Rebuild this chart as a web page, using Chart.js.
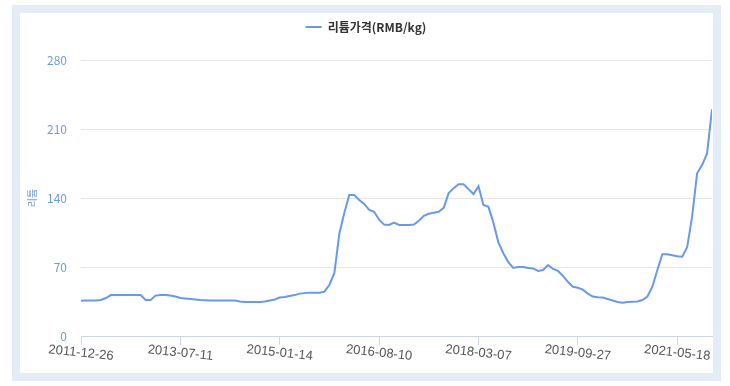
<!DOCTYPE html>
<html>
<head>
<meta charset="utf-8">
<script src="https://cdn.jsdelivr.net/npm/chart.js@4.4.1/dist/chart.umd.min.js"></script>
<style>
  html, body { margin: 0; padding: 0; background: #fff; }
  #frame {
    position: absolute; left: 12px; top: 5px;
    width: 709px; height: 376px;
    box-sizing: border-box;
    border: 8px solid #e4ecf7;
    background: #fff;
  }
  #wrap { position: relative; width: 693px; height: 360px; }
</style>
</head>
<body>
<div id="frame"><div id="wrap"><canvas id="price-chart"></canvas></div></div>
<script>
// x tick labels, one every 20 samples
const xTickLabels = ['2011-12-26', '2013-07-11', '2015-01-14', '2016-08-10', '2018-03-07', '2019-09-27', '2021-05-18'];
const samplesPerLabel = 20;

// lithium price (RMB/kg)
const lithiumPrice = [
  35.8, 36, 36, 36, 36.5, 38.5, 41.5, 41.6, 41.6, 41.6,
  41.6, 41.6, 41.6, 36.5, 36.5, 41, 41.6, 41.6, 41, 40,
  38.5, 38, 37.5, 37, 36.5, 36.2, 36, 36, 36, 36,
  36, 36, 35, 34.5, 34.5, 34.5, 34.6, 35, 36, 37,
  39, 39.5, 40.6, 41.5, 43, 43.5, 44, 44, 44, 45,
  52, 64, 104, 125, 143, 143, 138, 134, 128, 126,
  118, 113, 112.6, 115, 112.6, 112.6, 112.6, 113, 117, 122,
  124, 125, 126, 130, 145, 150, 154, 154, 149, 144,
  152, 133, 131, 115, 95, 84, 75, 69, 70, 70,
  69, 68.5, 66, 67, 72, 68, 66, 61, 55, 50,
  49, 47, 43, 40, 39.2, 39, 37.5, 36, 34.5, 33.8,
  34.5, 34.8, 35, 36.5, 40, 50, 67, 83, 83, 82,
  81, 80.5, 90, 121, 165, 173.4, 185, 230
];

const seriesName = '리튬가격(RMB/kg)';
const yTitle = '리튬';
const yTicks = { min: 0, max: 280, step: 70 };

const lineColor = 'rgb(104,153,238)';
const fontFamily = "'Noto Sans CJK KR', 'Noto Sans', sans-serif";

const legendSpacer = {
  id: 'legendSpacer',
  beforeInit(chart) {
    const fit = chart.legend.fit;
    chart.legend.fit = function () {
      fit.bind(chart.legend)();
      this.height += 17;
    };
  }
};

// rotated x labels centred under their tick
const slantedLabels = {
  id: 'slantedLabels',
  afterDraw(chart) {
    const scale = chart.scales.x;
    const ctx = chart.ctx;
    ctx.save();
    ctx.fillStyle = '#555';
    ctx.font = "13px 'Liberation Sans', Arial, sans-serif";
    ctx.textAlign = 'center';
    ctx.textBaseline = 'middle';
    scale.ticks.forEach(t => {
      const x = scale.getPixelForValue(t.value);
      ctx.save();
      ctx.translate(x, scale.top + 17);
      ctx.rotate(6 * Math.PI / 180);
      ctx.fillText(xTickLabels[t.value / samplesPerLabel] || '', 0, 0);
      ctx.restore();
    });
    ctx.restore();
  }
};

new Chart(document.querySelector('#price-chart').getContext('2d'), {
  type: 'line',
  data: {
    datasets: [{
      label: seriesName,
      data: lithiumPrice.map((v, i) => ({ x: i, y: v })),
      borderColor: lineColor,
      backgroundColor: lineColor,
      borderWidth: 2,
      pointRadius: 0,
      tension: 0,
      pointStyle: 'line'
    }]
  },
  options: {
    responsive: true,
    maintainAspectRatio: false,
    animation: false,
    layout: { padding: { top: 0, right: 1, left: 0, bottom: 0 } },
    plugins: {
      tooltip: { enabled: false },
      legend: {
        position: 'top',
        labels: {
          usePointStyle: true,
          pointStyleWidth: 16,
          padding: 8,
          color: '#333',
          font: { family: fontFamily, size: 12, weight: 'bold' }
        }
      }
    },
    scales: {
      x: {
        type: 'linear',
        min: 0,
        max: lithiumPrice.length - 1,
        grid: { display: true, drawOnChartArea: false, drawTicks: true, tickLength: 9, color: '#ccd6eb' },
        border: { display: true, color: '#ccd6eb' },
        ticks: {
          stepSize: samplesPerLabel,
          includeBounds: false,
          autoSkip: false,
          maxRotation: 0,
          color: 'rgba(0,0,0,0)',
          callback: v => xTickLabels[v / samplesPerLabel] || ''
        },
        afterFit: s => { s.height = 37; }
      },
      y: {
        min: yTicks.min,
        max: yTicks.max,
        grid: { color: '#e6e6e6', drawTicks: false },
        border: { display: false },
        ticks: {
          stepSize: yTicks.step,
          padding: 14,
          color: '#6e9be6',
          font: { family: fontFamily, size: 12 }
        },
        title: {
          display: true,
          text: yTitle,
          color: '#6e9be6',
          padding: { top: 6, bottom: 4 },
          font: { family: fontFamily, size: 10 }
        },
        afterFit: s => { s.width = 61; }
      }
    }
  },
  plugins: [legendSpacer, slantedLabels]
});
</script>
</body>
</html>
